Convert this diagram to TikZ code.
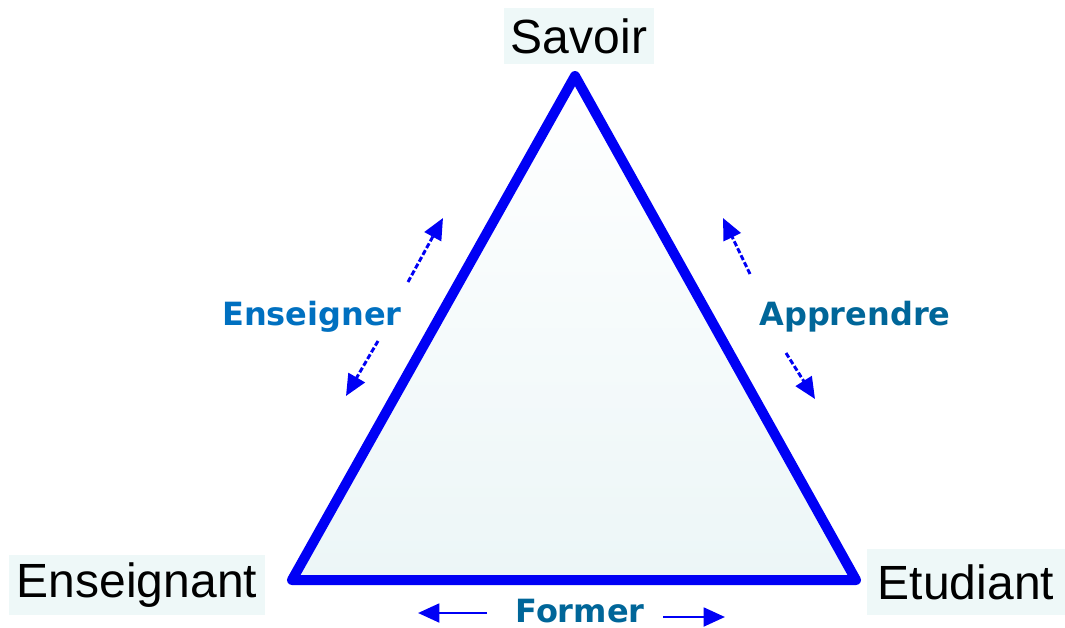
\documentclass[tikz,border=0pt]{standalone}
\usepackage{fontspec}
\setmainfont{Liberation Sans}
\newfontfamily\lblfont{DejaVu Sans}
\usetikzlibrary{arrows.meta}
\definecolor{boxbg}{RGB}{238,248,248}
\definecolor{tribg}{RGB}{236,246,247}
\definecolor{edge}{RGB}{0,0,245}
\definecolor{lblA}{RGB}{0,112,192}
\definecolor{lblB}{RGB}{0,102,153}
\begin{document}
\begin{tikzpicture}[x=0.75pt,y=-0.75pt,
  vertex/.style={fill=boxbg,inner sep=0pt,font=\fontsize{36pt}{40pt}\selectfont,text=black},
  rel/.style={font=\lblfont\bfseries\fontsize{24pt}{28pt}\selectfont,inner sep=0pt},
  hint/.style={draw=edge,line width=2.2pt,-{Triangle[length=16pt,width=14pt]}},
  hintd/.style={hint,dash pattern=on 4pt off 1.8pt}]
\useasboundingbox (0,0) rectangle (1065,628);
\fill[white] (0,0) rectangle (1065,628);
% corners
\coordinate (A) at (575,76);
\coordinate (B) at (292,580);
\coordinate (C) at (856,580);
\shade[top color=white,bottom color=tribg] (A) -- (B) -- (C) -- cycle;
\draw[edge,line width=7.5pt,line join=round] (A) -- (B) -- (C) -- cycle;
% vertex labels
\node[vertex,minimum width=112.5pt,minimum height=42pt] (sav) at (579,36) {Savoir};
\node[vertex,minimum width=192pt,minimum height=45pt] (ens) at (137,585) {Enseignant};
\node[vertex,minimum width=149pt,minimum height=49pt] (etu) at (966,582) {Etudiant};
% relation labels
\node[rel,text=lblA,anchor=base] (l1) at (312,325) {Enseigner};
\node[rel,text=lblB,anchor=base] (l2) at (855,325) {Apprendre};
\node[rel,text=lblB,anchor=base] (l3) at (580,622) {Former};
% arrows
\coordinate (e1s) at (408,282); \coordinate (e1t) at (443,218);
\coordinate (e2s) at (378,341); \coordinate (e2t) at (346,396);
\coordinate (a1s) at (750,274); \coordinate (a1t) at (723,218);
\coordinate (a2s) at (786,353); \coordinate (a2t) at (815,399);
\coordinate (f1s) at (487,613); \coordinate (f1t) at (418,613);
\coordinate (f2s) at (663,617); \coordinate (f2t) at (725,617);
\draw[hintd] (e1s) -- (e1t);
\draw[hintd] (e2s) -- (e2t);
\draw[hintd] (a1s) -- (a1t);
\draw[hintd] (a2s) -- (a2t);
\draw[hint] (f1s) -- (f1t);
\draw[hint] (f2s) -- (f2t);
\end{tikzpicture}
\end{document}
